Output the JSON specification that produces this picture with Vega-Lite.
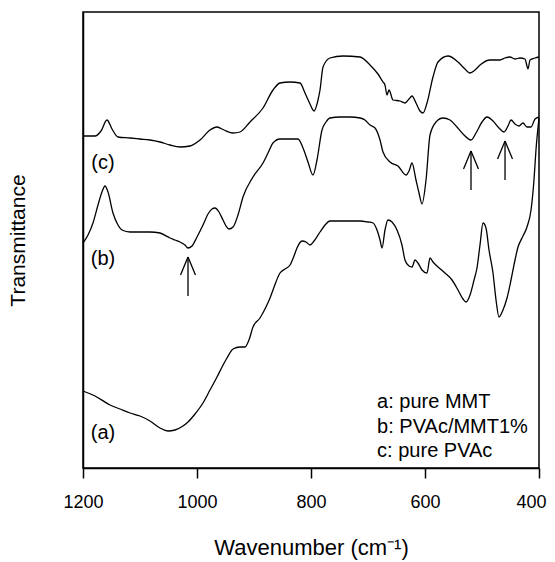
{
  "$schema": "https://vega.github.io/schema/vega-lite/v6.json",
  "autosize": {"type": "none"},
  "padding": {"left": 83, "top": 12, "right": 16, "bottom": 94},
  "width": 456,
  "height": 456,
  "background": "white",
  "config": {
    "view": {"stroke": "black", "strokeWidth": 1.5},
    "font": "Liberation Sans"
  },
  "datasets": {
    "spectra": [
      {"s":"c","w":1200,"t":332},{"s":"c","w":1178.9,"t":332},{"s":"c","w":1168.4,"t":337},{"s":"c","w":1157.9,"t":348},{"s":"c","w":1149.1,"t":339},{"s":"c","w":1138.6,"t":331},{"s":"c","w":1117.5,"t":330},{"s":"c","w":1100,"t":329},{"s":"c","w":1082.5,"t":328},{"s":"c","w":1064.9,"t":326},{"s":"c","w":1047.4,"t":323},{"s":"c","w":1029.8,"t":321},{"s":"c","w":1012.3,"t":322},{"s":"c","w":994.7,"t":328},{"s":"c","w":977.2,"t":338},{"s":"c","w":964.9,"t":341},{"s":"c","w":952.6,"t":338},{"s":"c","w":936.8,"t":335},{"s":"c","w":924.6,"t":336},{"s":"c","w":907,"t":346},{"s":"c","w":884.2,"t":360},{"s":"c","w":866.7,"t":378},{"s":"c","w":854.4,"t":385},{"s":"c","w":836.8,"t":386},{"s":"c","w":819.3,"t":385},{"s":"c","w":810.5,"t":375},{"s":"c","w":801.8,"t":364},{"s":"c","w":794.7,"t":357},{"s":"c","w":787.7,"t":368},{"s":"c","w":784.2,"t":378},{"s":"c","w":778.9,"t":401},{"s":"c","w":766.7,"t":410},{"s":"c","w":743.9,"t":412},{"s":"c","w":714,"t":411},{"s":"c","w":696.5,"t":403},{"s":"c","w":682.5,"t":394},{"s":"c","w":673.7,"t":386},{"s":"c","w":670.2,"t":383},{"s":"c","w":666.7,"t":373},{"s":"c","w":663.2,"t":378},{"s":"c","w":656.1,"t":368},{"s":"c","w":643.9,"t":367},{"s":"c","w":635.1,"t":365},{"s":"c","w":628.1,"t":369},{"s":"c","w":622.8,"t":372},{"s":"c","w":615.8,"t":365},{"s":"c","w":608.8,"t":357},{"s":"c","w":603.5,"t":355},{"s":"c","w":596.5,"t":365},{"s":"c","w":586,"t":391},{"s":"c","w":577.2,"t":406},{"s":"c","w":559.6,"t":412},{"s":"c","w":542.1,"t":406},{"s":"c","w":531.6,"t":400},{"s":"c","w":521,"t":395},{"s":"c","w":512.3,"t":398},{"s":"c","w":503.5,"t":403},{"s":"c","w":486,"t":408},{"s":"c","w":468.4,"t":408},{"s":"c","w":459.6,"t":410},{"s":"c","w":450.9,"t":411},{"s":"c","w":442.1,"t":409},{"s":"c","w":433.3,"t":410},{"s":"c","w":424.6,"t":409},{"s":"c","w":421.1,"t":402},{"s":"c","w":419.3,"t":399},{"s":"c","w":415.8,"t":408},{"s":"c","w":407,"t":410},{"s":"c","w":400,"t":411},
      {"s":"b","w":1200,"t":225},{"s":"b","w":1191.2,"t":233},{"s":"b","w":1182.5,"t":245},{"s":"b","w":1173.7,"t":263},{"s":"b","w":1166.7,"t":276},{"s":"b","w":1161.4,"t":282},{"s":"b","w":1156.1,"t":276},{"s":"b","w":1147.4,"t":255},{"s":"b","w":1138.6,"t":243},{"s":"b","w":1131.6,"t":238},{"s":"b","w":1117.5,"t":236},{"s":"b","w":1100,"t":236},{"s":"b","w":1082.5,"t":236},{"s":"b","w":1064.9,"t":235},{"s":"b","w":1047.4,"t":230},{"s":"b","w":1038.6,"t":228},{"s":"b","w":1029.8,"t":226},{"s":"b","w":1021.1,"t":223},{"s":"b","w":1015.8,"t":220},{"s":"b","w":1008.8,"t":222},{"s":"b","w":1000,"t":231},{"s":"b","w":989.5,"t":243},{"s":"b","w":980.7,"t":254},{"s":"b","w":973.7,"t":259},{"s":"b","w":968.4,"t":260},{"s":"b","w":961.4,"t":256},{"s":"b","w":954.4,"t":248},{"s":"b","w":949.1,"t":242},{"s":"b","w":943.9,"t":239},{"s":"b","w":936.8,"t":241},{"s":"b","w":928.1,"t":253},{"s":"b","w":919.3,"t":271},{"s":"b","w":901.8,"t":291},{"s":"b","w":884.2,"t":305},{"s":"b","w":875.4,"t":315},{"s":"b","w":866.7,"t":325},{"s":"b","w":854.4,"t":329},{"s":"b","w":836.8,"t":329},{"s":"b","w":822.8,"t":329},{"s":"b","w":814,"t":320},{"s":"b","w":805.3,"t":306},{"s":"b","w":796.5,"t":293},{"s":"b","w":789.5,"t":308},{"s":"b","w":780.7,"t":338},{"s":"b","w":773.7,"t":346},{"s":"b","w":766.7,"t":350},{"s":"b","w":749.1,"t":351},{"s":"b","w":731.6,"t":351},{"s":"b","w":714,"t":350},{"s":"b","w":705.3,"t":348},{"s":"b","w":696.5,"t":343},{"s":"b","w":687.7,"t":340},{"s":"b","w":678.9,"t":328},{"s":"b","w":673.7,"t":316},{"s":"b","w":661.4,"t":306},{"s":"b","w":647.4,"t":302},{"s":"b","w":633.3,"t":293},{"s":"b","w":628.1,"t":297},{"s":"b","w":622.8,"t":305},{"s":"b","w":615.8,"t":288},{"s":"b","w":610.5,"t":275},{"s":"b","w":605.3,"t":264},{"s":"b","w":598.2,"t":288},{"s":"b","w":591.2,"t":333},{"s":"b","w":580.7,"t":346},{"s":"b","w":568.4,"t":350},{"s":"b","w":556.1,"t":348},{"s":"b","w":543.9,"t":341},{"s":"b","w":531.6,"t":333},{"s":"b","w":519.3,"t":328},{"s":"b","w":510.5,"t":335},{"s":"b","w":500,"t":346},{"s":"b","w":491.2,"t":351},{"s":"b","w":480.7,"t":347},{"s":"b","w":470.2,"t":340},{"s":"b","w":461.4,"t":336},{"s":"b","w":454.4,"t":342},{"s":"b","w":449.1,"t":348},{"s":"b","w":442.1,"t":344},{"s":"b","w":435.1,"t":342},{"s":"b","w":428.1,"t":345},{"s":"b","w":421.1,"t":341},{"s":"b","w":414,"t":341},{"s":"b","w":407,"t":349},{"s":"b","w":400,"t":351},
      {"s":"a","w":1200,"t":77},{"s":"a","w":1178.9,"t":72},{"s":"a","w":1152.6,"t":63},{"s":"a","w":1135.1,"t":59},{"s":"a","w":1117.5,"t":55},{"s":"a","w":1100,"t":52},{"s":"a","w":1082.5,"t":47},{"s":"a","w":1064.9,"t":40},{"s":"a","w":1050.9,"t":37},{"s":"a","w":1038.6,"t":38},{"s":"a","w":1024.6,"t":42},{"s":"a","w":1015.8,"t":46},{"s":"a","w":1003.5,"t":54},{"s":"a","w":989.5,"t":65},{"s":"a","w":977.2,"t":78},{"s":"a","w":964.9,"t":91},{"s":"a","w":956.1,"t":101},{"s":"a","w":947.4,"t":110},{"s":"a","w":936.8,"t":119},{"s":"a","w":924.6,"t":121},{"s":"a","w":915.8,"t":121},{"s":"a","w":908.8,"t":128},{"s":"a","w":901.8,"t":141},{"s":"a","w":889.5,"t":150},{"s":"a","w":879,"t":161},{"s":"a","w":871.9,"t":170},{"s":"a","w":866.7,"t":178},{"s":"a","w":854.4,"t":195},{"s":"a","w":845.6,"t":199},{"s":"a","w":836.8,"t":203},{"s":"a","w":829.8,"t":212},{"s":"a","w":824.6,"t":220},{"s":"a","w":815.8,"t":227},{"s":"a","w":808.8,"t":226},{"s":"a","w":801.8,"t":223},{"s":"a","w":794.7,"t":227},{"s":"a","w":784.2,"t":236},{"s":"a","w":775.4,"t":243},{"s":"a","w":766.7,"t":247},{"s":"a","w":749.1,"t":247},{"s":"a","w":731.6,"t":247},{"s":"a","w":714,"t":247},{"s":"a","w":700,"t":246},{"s":"a","w":691.2,"t":245},{"s":"a","w":684.2,"t":238},{"s":"a","w":678.9,"t":228},{"s":"a","w":675.4,"t":220},{"s":"a","w":670.2,"t":238},{"s":"a","w":664.9,"t":248},{"s":"a","w":657.9,"t":246},{"s":"a","w":649.1,"t":238},{"s":"a","w":640.4,"t":223},{"s":"a","w":635.1,"t":208},{"s":"a","w":628.1,"t":202},{"s":"a","w":622.8,"t":201},{"s":"a","w":617.5,"t":208},{"s":"a","w":612.3,"t":205},{"s":"a","w":605.3,"t":198},{"s":"a","w":596.5,"t":195},{"s":"a","w":591.2,"t":210},{"s":"a","w":586,"t":206},{"s":"a","w":577.2,"t":201},{"s":"a","w":564.9,"t":195},{"s":"a","w":552.6,"t":188},{"s":"a","w":542.1,"t":178},{"s":"a","w":533.3,"t":169},{"s":"a","w":528.1,"t":166},{"s":"a","w":521,"t":173},{"s":"a","w":514,"t":188},{"s":"a","w":508.8,"t":200},{"s":"a","w":503.5,"t":223},{"s":"a","w":498.2,"t":245},{"s":"a","w":493,"t":240},{"s":"a","w":487.7,"t":218},{"s":"a","w":480.7,"t":195},{"s":"a","w":475.4,"t":168},{"s":"a","w":470.2,"t":151},{"s":"a","w":463.2,"t":158},{"s":"a","w":456.1,"t":170},{"s":"a","w":449.1,"t":188},{"s":"a","w":442.1,"t":208},{"s":"a","w":436.8,"t":221},{"s":"a","w":429.8,"t":230},{"s":"a","w":421.1,"t":241},{"s":"a","w":414,"t":258},{"s":"a","w":408.8,"t":288},{"s":"a","w":405.3,"t":318},{"s":"a","w":400,"t":350}
    ],
    "arrows": [
      {"w":1015.8,"t":211,"w2":1015.8,"t2":172},
      {"w":1015.8,"t":211,"w2":1028.9,"t2":193},
      {"w":1015.8,"t":211,"w2":1002.7,"t2":193},
      {"w":519.3,"t":317,"w2":519.3,"t2":278},
      {"w":519.3,"t":317,"w2":532.4,"t2":299},
      {"w":519.3,"t":317,"w2":506.2,"t2":299},
      {"w":459.6,"t":327,"w2":459.6,"t2":288},
      {"w":459.6,"t":327,"w2":472.7,"t2":309},
      {"w":459.6,"t":327,"w2":446.5,"t2":309}
    ],
    "curveLabels": [
      {"w":1165,"t":305,"label":"(c)"},
      {"w":1165,"t":209,"label":"(b)"},
      {"w":1165,"t":35,"label":"(a)"}
    ],
    "legendText": [
      {"w":684,"t":60,"label":"a: pure MMT"},
      {"w":684,"t":35,"label":"b: PVAc/MMT1%"},
      {"w":684,"t":11,"label":"c: pure PVAc"}
    ]
  },
  "layer": [
    {
      "data": {"name": "spectra"},
      "mark": {"type": "line", "color": "black", "strokeWidth": 1.3, "interpolate": "monotone"},
      "encoding": {
        "x": {
          "field": "w", "type": "quantitative",
          "scale": {"domain": [400, 1200], "reverse": true, "nice": false, "zero": false},
          "axis": {
            "values": [1200, 1000, 800, 600, 400],
            "format": "d",
            "title": "Wavenumber (cm⁻¹)",
            "titleFont": "Liberation Sans", "titleFontSize": 22, "titleFontWeight": "normal", "titleColor": "black", "titlePadding": 26,
            "labelFont": "Liberation Sans", "labelFontSize": 18, "labelColor": "black", "labelPadding": 15,
            "labelOffset": {"condition": {"test": "datum.value === 400", "value": -8}, "value": 0},
            "labelFlush": false, "labelOverlap": false,
            "tickSize": 10, "tickColor": "black", "tickWidth": 1.5,
            "domainColor": "black", "domainWidth": 1.5, "grid": false
          }
        },
        "y": {
          "field": "t", "type": "quantitative",
          "scale": {"domain": [0, 456], "nice": false, "zero": false},
          "axis": {
            "title": "Transmittance",
            "titleFont": "Liberation Sans", "titleFontSize": 21, "titleFontWeight": "normal", "titleColor": "black", "titlePadding": 55,
            "labels": false, "ticks": false, "grid": false,
            "domainColor": "black", "domainWidth": 1.5
          }
        },
        "detail": {"field": "s", "type": "nominal"}
      }
    },
    {
      "data": {"name": "arrows"},
      "mark": {"type": "rule", "color": "black", "strokeWidth": 1.3},
      "encoding": {
        "x": {"field": "w", "type": "quantitative"},
        "x2": {"field": "w2"},
        "y": {"field": "t", "type": "quantitative"},
        "y2": {"field": "t2"}
      }
    },
    {
      "data": {"name": "curveLabels"},
      "mark": {"type": "text", "font": "Liberation Sans", "fontSize": 20, "color": "black", "align": "center", "baseline": "middle"},
      "encoding": {
        "x": {"field": "w", "type": "quantitative"},
        "y": {"field": "t", "type": "quantitative"},
        "text": {"field": "label"}
      }
    },
    {
      "data": {"name": "legendText"},
      "mark": {"type": "text", "font": "Liberation Sans", "fontSize": 20, "color": "black", "align": "left", "baseline": "alphabetic"},
      "encoding": {
        "x": {"field": "w", "type": "quantitative"},
        "y": {"field": "t", "type": "quantitative"},
        "text": {"field": "label"}
      }
    }
  ]
}
